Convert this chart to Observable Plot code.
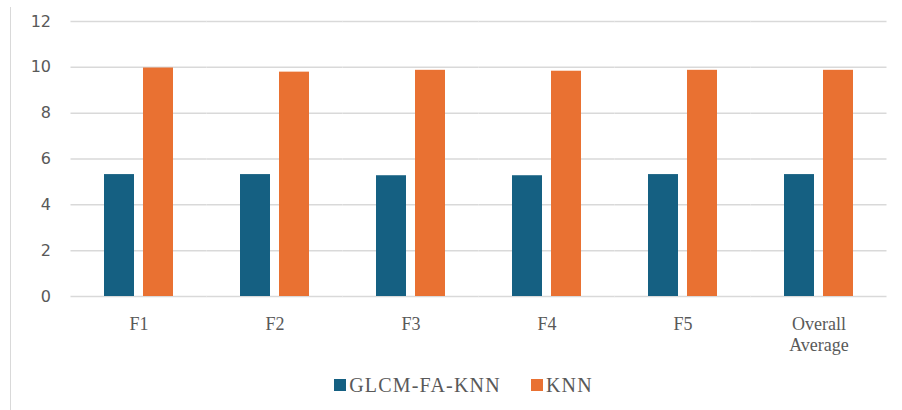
<!DOCTYPE html>
<html>
<head>
<meta charset="utf-8">
<script src="https://cdn.jsdelivr.net/npm/d3@7"></script>
<script src="https://cdn.jsdelivr.net/npm/@observablehq/plot@0.6"></script>
<style>
  body { margin: 0; background: #fff; width: 902px; height: 410px; overflow: hidden; position: relative; }
  #frame { position: absolute; left: 10px; top: 7px; width: 1px; height: 403px; background: #d9d9d9; }
  #chart svg { display: block; }
  #legend { display: flex; justify-content: center; align-items: center; padding-left: 25px;
            margin-top: 10px; height: 20px; font-family: "Liberation Serif", "Times New Roman", serif;
            font-size: 20px; letter-spacing: 1.2px; color: #595959; }
  .item { display: flex; align-items: center; }
  .item + .item { margin-left: 30px; }
  .sw { width: 12px; height: 12px; margin-right: 3px; }
</style>
</head>
<body>
<div id="frame"></div>
<div id="chart"></div>
<div id="legend"></div>
<script>
const categories = ["F1", "F2", "F3", "F4", "F5", "Overall Average"];
const seriesNames = ["GLCM-FA-KNN", "KNN"];
const glcmValues = [5.32, 5.32, 5.27, 5.27, 5.32, 5.32];
const knnValues = [9.97, 9.79, 9.87, 9.83, 9.87, 9.87];
const yTicks = [0, 2, 4, 6, 8, 10, 12];
const colors = ["#156082", "#e97132"];

const rows = [];
categories.forEach((c, i) => {
  rows.push({cat: c, series: seriesNames[0], value: glcmValues[i]});
  rows.push({cat: c, series: seriesNames[1], value: knnValues[i]});
});

const chart = Plot.plot({
  width: 902,
  height: 365,
  marginLeft: 70.5,
  marginRight: 15.5,
  marginTop: 21,
  marginBottom: 69,
  style: {color: "#595959", background: "transparent"},
  fx: {domain: categories, padding: 0, axis: null, label: null, round: false},
  x: {domain: seriesNames, paddingInner: 0.2308, paddingOuter: 0.859, axis: null, round: false},
  y: {domain: [0, 12], axis: null},
  color: {domain: seriesNames, range: colors},
  marks: [
    Plot.ruleY(yTicks, {stroke: "#d9d9d9", strokeWidth: 1.5}),
    Plot.barY(rows, {fx: "cat", x: "series", y: "value", fill: "series"}),
    Plot.axisY({ticks: yTicks, tickSize: 0, tickPadding: 20, label: null,
                fontFamily: "DejaVu Sans", fontSize: 16, tickFormat: d => String(d)}),
    Plot.axisFx({anchor: "bottom", tickSize: 0, tickPadding: 19, label: null,
                 fontFamily: "Liberation Serif", fontSize: 18, lineHeight: 1.15,
                 tickFormat: d => d === "Overall Average" ? "Overall\nAverage" : d})
  ]
});
document.getElementById("chart").appendChild(chart);

const legend = document.getElementById("legend");
seriesNames.forEach((s, i) => {
  const item = document.createElement("div");
  item.className = "item";
  const sw = document.createElement("div");
  sw.className = "sw";
  sw.style.background = colors[i];
  const t = document.createElement("span");
  t.textContent = s;
  item.appendChild(sw);
  item.appendChild(t);
  legend.appendChild(item);
});
</script>
</body>
</html>
